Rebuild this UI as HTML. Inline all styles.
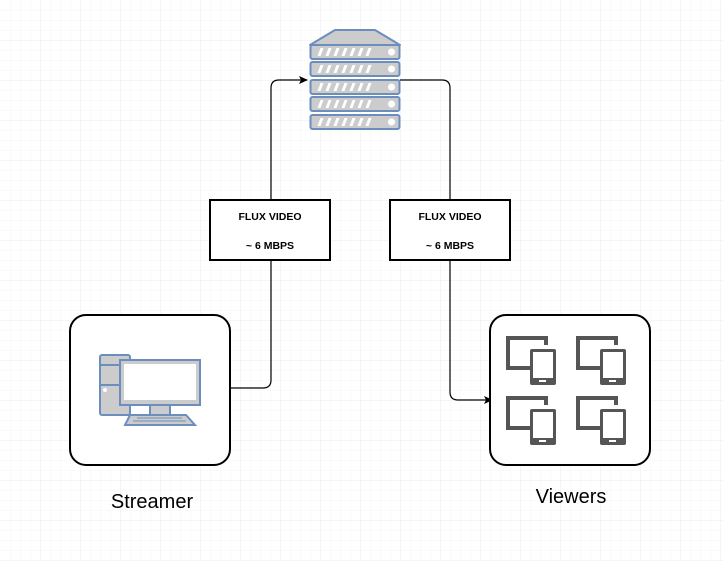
<!DOCTYPE html>
<html><head><style>body{margin:0;background:#fff}svg{display:block}</style></head><body>
<svg width="723" height="561" xmlns="http://www.w3.org/2000/svg" font-family="Liberation Sans, sans-serif">
<defs>
<pattern id="g1" width="10" height="10" patternUnits="userSpaceOnUse"><path d="M0 0H10M0 0V10" stroke="#f6f6f6" stroke-width="1" fill="none"/></pattern>
<pattern id="g2" width="40" height="40" patternUnits="userSpaceOnUse"><path d="M0 0H40M0 0V40" stroke="#ebebeb" stroke-width="1" fill="none"/></pattern>
<marker id="a" markerWidth="10" markerHeight="10" refX="8" refY="5" orient="auto" markerUnits="userSpaceOnUse"><path d="M0 1L9 5L0 9L2 5Z" fill="#000"/></marker>
<g id="unit"><rect x="0" y="0" width="89" height="14" rx="2" fill="#ccc" stroke="#6c8ebf" stroke-width="2"/>
<g fill="#fff"><path d="M7 11L10 3H13L10 11Z"/><path d="M15 11L18 3H21L18 11Z"/><path d="M23 11L26 3H29L26 11Z"/><path d="M31 11L34 3H37L34 11Z"/><path d="M39 11L42 3H45L42 11Z"/><path d="M47 11L50 3H53L50 11Z"/><path d="M55 11L58 3H61L58 11Z"/></g>
<circle cx="81" cy="7" r="3.5" fill="#fff"/></g>
<g id="dev" fill="#555"><path d="M0 0H42V9H38V4H4V30H24V34H0Z"/><rect x="24" y="13" width="26" height="36" rx="2"/><rect x="27" y="16" width="20" height="26" fill="#fff"/><rect x="33" y="44" width="7" height="2" fill="#fff"/></g>
</defs>
<rect x="0.5" y="0.5" width="723" height="561" fill="url(#g1)"/>
<rect x="0.5" y="0.5" width="723" height="561" fill="url(#g2)"/>
<g fill="none" stroke="#000" stroke-width="1.2">
<path d="M230 388H263Q271 388 271 380V88Q271 80 279 80H307" marker-end="url(#a)"/>
<path d="M400 80H442Q450 80 450 88V392Q450 400 458 400H492" marker-end="url(#a)"/>
</g>
<path d="M335 30H375L400 45H310Z" fill="#ccc" stroke="#6c8ebf" stroke-width="2" stroke-linejoin="round"/>
<use href="#unit" x="310.5" y="45"/>
<use href="#unit" x="310.5" y="62"/>
<use href="#unit" x="310.5" y="80"/>
<use href="#unit" x="310.5" y="97"/>
<use href="#unit" x="310.5" y="115"/>
<g font-size="10.5" font-weight="bold" text-anchor="middle">
<rect x="210" y="200" width="120" height="60" fill="#fff" stroke="#000" stroke-width="2"/>
<text x="270" y="220">FLUX VIDEO</text><text x="270" y="249">~ 6 MBPS</text>
<rect x="390" y="200" width="120" height="60" fill="#fff" stroke="#000" stroke-width="2"/>
<text x="450" y="220">FLUX VIDEO</text><text x="450" y="249">~ 6 MBPS</text>
</g>
<rect x="70" y="315" width="160" height="150" rx="16" fill="#fff" stroke="#000" stroke-width="2"/>
<g stroke="#6c8ebf" stroke-width="2">
<rect x="100" y="355" width="30" height="60" rx="2" fill="#ccc"/>
<line x1="100" y1="365" x2="120" y2="365"/><line x1="100" y1="385" x2="120" y2="385"/>
<rect x="150" y="405" width="20" height="10" fill="#ccc"/>
<path d="M130 415H186L195 425H125Z" fill="#ccc"/>
<rect x="120" y="360" width="80" height="45" fill="#ccc"/>
</g>
<rect x="124" y="364" width="72" height="36" fill="#fff"/>
<circle cx="105" cy="390" r="2" fill="#fff"/>
<g stroke="#6c8ebf" stroke-width="1"><line x1="137" y1="418" x2="182" y2="418"/><line x1="133" y1="421" x2="186" y2="421"/></g>
<text x="152" y="508" font-size="20" text-anchor="middle">Streamer</text>
<rect x="490" y="315" width="160" height="150" rx="16" fill="#fff" stroke="#000" stroke-width="2"/>
<use href="#dev" x="506" y="336"/>
<use href="#dev" x="576" y="336"/>
<use href="#dev" x="506" y="396"/>
<use href="#dev" x="576" y="396"/>
<text x="571" y="503" font-size="20" text-anchor="middle">Viewers</text>
</svg>
</body></html>
